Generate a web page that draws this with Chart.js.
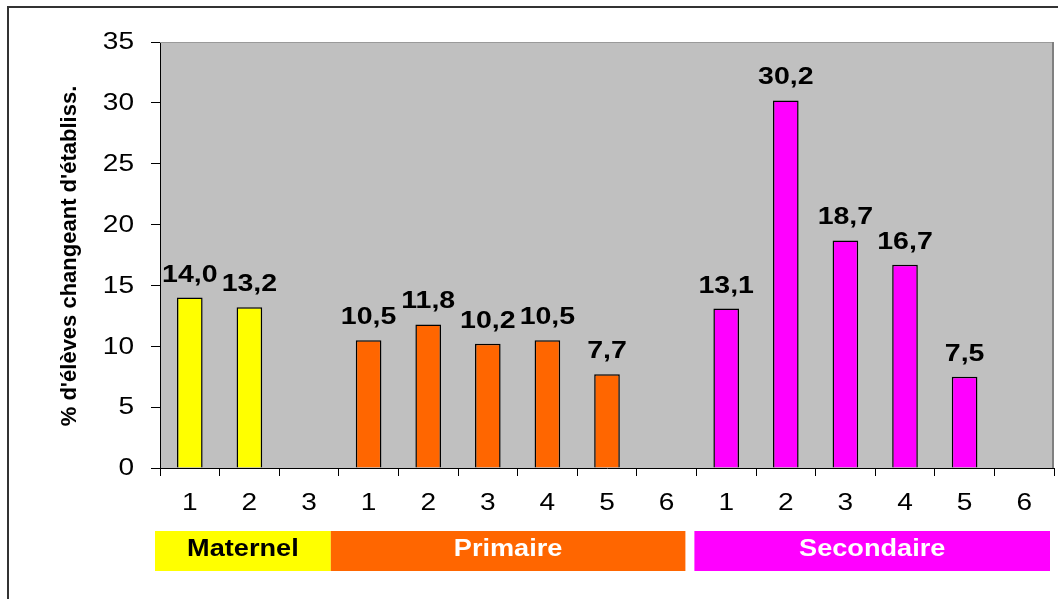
<!DOCTYPE html>
<html>
<head>
<meta charset="utf-8">
<script src="https://cdn.jsdelivr.net/npm/chart.js@4.4.0/dist/chart.umd.min.js"></script>
<style>
  html, body { margin: 0; padding: 0; background: #fff; }
  #wrap { width: 1058px; height: 599px; position: relative; }
</style>
</head>
<body>
<div id="wrap"><canvas id="chart"></canvas></div>
<script>
// Données
const groupNames = ['Maternel', 'Primaire', 'Secondaire'];
const maternelLevels = ['1', '2', '3'];
const primaireLevels = ['1', '2', '3', '4', '5', '6'];
const secondaireLevels = ['1', '2', '3', '4', '5', '6'];
const maternelValues = [14.0, 13.2, null];
const primaireValues = [10.5, 11.8, 10.2, 10.5, 7.7, null];
const secondaireValues = [13.1, 30.2, 18.7, 16.7, 7.5, null];
const yTicks = [0, 5, 10, 15, 20, 25, 30, 35];
const yTitle = "% d'élèves changeant d'établiss.";

// Styles
const groupColors = ['#FFFF00', '#FF6600', '#FF00FF'];
const groupTextColors = ['#000000', '#FFFFFF', '#FFFFFF'];
const bandInsets = [[-5, -8], [-8, -11], [-2, -4]];
const FONT = '"Liberation Sans", Arial, sans-serif';

const levels = [maternelLevels, primaireLevels, secondaireLevels];
const labels = [].concat(...levels);
const values = [].concat(maternelValues, primaireValues, secondaireValues);
const barColors = [];
levels.forEach((lv, g) => lv.forEach(() => barColors.push(groupColors[g])));

// Dessine un texte étiré horizontalement (le graphique d'origine est élargi)
function stretchText(ctx, text, x, y, sx, align) {
    ctx.save();
    ctx.translate(x, y);
    ctx.scale(sx, 1);
    ctx.textAlign = align;
    ctx.fillText(text, 0, 0);
    ctx.restore();
}

const decorPlugin = {
    id: 'decor',
    beforeDraw(chart) {
        const ctx = chart.ctx;
        const a = chart.chartArea;
        ctx.save();
        // fond gris de la zone de tracé
        ctx.fillStyle = '#C0C0C0';
        ctx.fillRect(a.left, a.top, a.right - a.left, a.bottom - a.top);
        // cadre extérieur
        ctx.strokeStyle = '#333333';
        ctx.lineWidth = 2;
        ctx.beginPath();
        ctx.moveTo(8, 599);
        ctx.lineTo(8, 7);
        ctx.lineTo(1058, 7);
        ctx.stroke();
        ctx.restore();
    },
    afterDraw(chart) {
        const ctx = chart.ctx;
        const a = chart.chartArea;
        const xs = chart.scales.x;
        const ys = chart.scales.y;
        ctx.save();

        // bords haut et droit de la zone de tracé
        ctx.strokeStyle = '#9A9A9A';
        ctx.lineWidth = 1;
        ctx.beginPath();
        ctx.moveTo(a.left, a.top + 0.5);
        ctx.lineTo(a.right, a.top + 0.5);
        ctx.stroke();
        ctx.strokeStyle = '#808080';
        ctx.lineWidth = 2;
        ctx.beginPath();
        ctx.moveTo(a.right - 1, a.top);
        ctx.lineTo(a.right - 1, a.bottom);
        ctx.stroke();

        // graduations de l'axe Y
        ctx.fillStyle = '#000';
        ctx.font = '23px ' + FONT;
        ctx.textBaseline = 'middle';
        ys.ticks.forEach((t, i) => {
            stretchText(ctx, String(t.value), a.left - 26, ys.getPixelForTick(i) + 1, 1.22, 'right');
        });

        // libellés de l'axe X
        labels.forEach((lab, i) => {
            stretchText(ctx, lab, xs.getPixelForValue(i), a.bottom + 36, 1.22, 'center');
        });

        // valeurs au-dessus des barres
        const meta = chart.getDatasetMeta(0);
        ctx.font = 'bold 23px ' + FONT;
        ctx.textBaseline = 'alphabetic';
        meta.data.forEach((bar, i) => {
            if (values[i] == null) return;
            const txt = values[i].toFixed(1).replace('.', ',');
            stretchText(ctx, txt, bar.x, bar.y - 16, 1.24, 'center');
        });

        // bandeaux des niveaux
        let start = 0;
        const step = (xs.getPixelForValue(1) - xs.getPixelForValue(0));
        levels.forEach((lv, g) => {
            const x0 = xs.getPixelForValue(start) - step / 2 + bandInsets[g][0];
            const x1 = xs.getPixelForValue(start + lv.length - 1) + step / 2 + bandInsets[g][1];
            const top = a.bottom + 63;
            ctx.fillStyle = groupColors[g];
            ctx.fillRect(x0, top, x1 - x0, 40);
            ctx.fillStyle = groupTextColors[g];
            ctx.font = 'bold 23px ' + FONT;
            stretchText(ctx, groupNames[g], (x0 + x1) / 2, top + 25, 1.18, 'center');
            start += lv.length;
        });

        // titre de l'axe Y
        ctx.fillStyle = '#000';
        ctx.font = 'bold 22px ' + FONT;
        ctx.textBaseline = 'middle';
        ctx.translate(70, 256);
        ctx.rotate(-Math.PI / 2);
        ctx.textAlign = 'center';
        ctx.fillText(yTitle, 0, 0);
        ctx.restore();
    }
};

new Chart(document.getElementById('chart'), {
    type: 'bar',
    data: {
        labels: labels,
        datasets: [{
            data: values,
            backgroundColor: barColors,
            borderColor: '#000000',
            borderWidth: 1.5,
            borderSkipped: 'start',
            categoryPercentage: 1.0,
            barPercentage: 0.43
        }]
    },
    options: {
        responsive: true,
        maintainAspectRatio: false,
        animation: false,
        layout: { padding: { top: 42, right: 4, left: 0, bottom: 0 } },
        plugins: {
            legend: { display: false },
            tooltip: { enabled: false }
        },
        scales: {
            x: {
                afterFit: (scale) => { scale.height = 131; },
                grid: {
                    offset: true,
                    drawOnChartArea: false,
                    drawTicks: true,
                    tickLength: 8,
                    color: '#000'
                },
                border: { display: true, color: '#000', width: 1 },
                ticks: { display: false }
            },
            y: {
                min: 0,
                max: 35,
                afterFit: (scale) => { scale.width = 160; },
                afterBuildTicks: (scale) => { scale.ticks = yTicks.map(v => ({ value: v })); },
                grid: {
                    drawOnChartArea: false,
                    drawTicks: true,
                    tickLength: 9,
                    color: '#000'
                },
                border: { display: true, color: '#000', width: 1 },
                ticks: { display: false }
            }
        }
    },
    plugins: [decorPlugin]
});
</script>
</body>
</html>
